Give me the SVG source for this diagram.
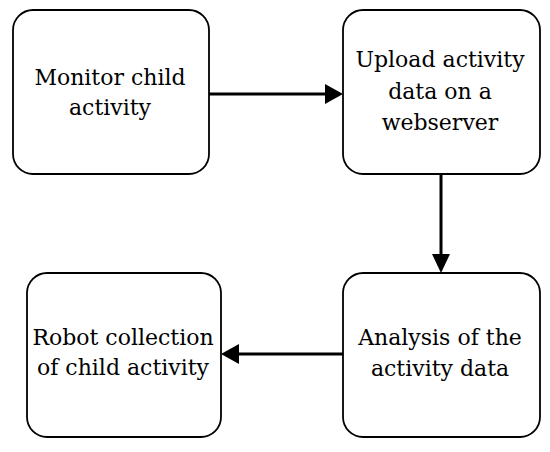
<svg xmlns="http://www.w3.org/2000/svg" width="550" height="452" viewBox="0 0 550 452">
<defs>
<style>
.box{fill:#fff;stroke:#000;stroke-width:1.8}
.conn{stroke:#000;stroke-width:3;fill:none}
.head{fill:#000}
</style>
</defs>
<rect width="550" height="452" fill="#fff"/>
<g id="connectors">
<line class="conn" x1="209" y1="94" x2="327" y2="94"/>
<polygon class="head" points="343,94 325,84 325,104"/>
<line class="conn" x1="441" y1="174" x2="441" y2="256"/>
<polygon class="head" points="441,273 432,254 450,254"/>
<line class="conn" x1="343" y1="354" x2="238" y2="354"/>
<polygon class="head" points="221,354 239,344 239,364"/>
</g>
<g font-family="DejaVu Serif, serif" font-size="22" fill="#000" text-anchor="middle">
<g id="node-monitor">
<rect class="box" x="13" y="10" width="196" height="164" rx="20"/>
<text x="110" y="85">Monitor child</text>
<text x="110" y="115">activity</text>
</g>
<g id="node-upload">
<rect class="box" x="343" y="10" width="197" height="164" rx="20"/>
<text x="440" y="67">Upload activity</text>
<text x="440" y="99">data on a</text>
<text x="440" y="130">webserver</text>
</g>
<g id="node-analysis">
<rect class="box" x="343" y="273" width="197" height="164" rx="20"/>
<text x="440" y="345">Analysis of the</text>
<text x="440" y="376">activity data</text>
</g>
<g id="node-robot">
<rect class="box" x="27" y="273" width="194" height="164" rx="20"/>
<text x="123" y="345">Robot collection</text>
<text x="123" y="375">of child activity</text>
</g>
</g>
</svg>
